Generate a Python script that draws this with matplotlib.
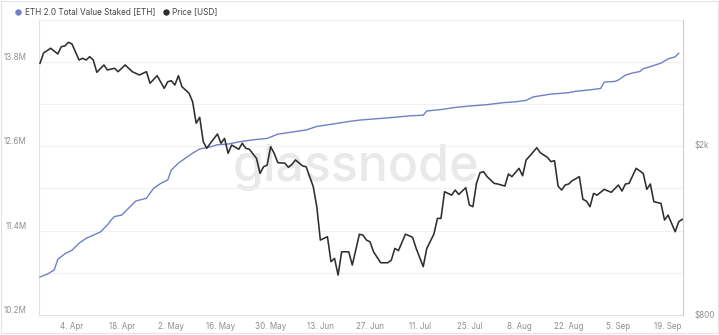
import matplotlib
matplotlib.use("Agg")
import matplotlib.pyplot as plt
import matplotlib.dates as mdates
from matplotlib.lines import Line2D
from matplotlib.patches import Rectangle
from matplotlib.ticker import FixedLocator, FuncFormatter, NullFormatter
import pandas as pd

# ---------------- data (days since 26 Mar 2022) ----------------
base_date = "2022-03-26"

price_day = [0, 1, 3, 5, 6, 7, 8, 9, 11, 12, 13, 14, 15, 16, 18, 19, 21, 22, 24, 26,
             28, 30, 31, 33, 35, 36, 37, 38, 39, 40, 42, 43, 44, 45, 46, 47, 48, 50, 51, 52,
             53, 54, 56, 57, 58, 59, 61, 62, 63, 64, 65, 66, 67, 69, 70, 71, 72, 74, 75, 77,
             78, 79, 81, 82, 83, 84, 85, 87, 88, 90, 91, 92, 93, 94, 96, 98, 99, 100, 101, 103,
             105, 106, 108, 109, 111, 112, 113, 114, 116, 117, 118, 120, 121, 122, 123, 124, 125, 126, 128, 129,
             131, 132, 133, 135, 136, 137, 138, 140, 141, 143, 144, 145, 146, 147, 148, 149, 150, 152, 153, 154,
             155, 156, 157, 159, 161, 163, 164, 165, 166, 168, 170, 171, 172, 173, 175, 176, 177, 179, 180, 181]
price_usd = [3092, 3269, 3353, 3251, 3382, 3394, 3462, 3431, 3147, 3176, 3147, 3204, 3147, 2945, 3064, 2982, 3010, 2955, 3064, 2955,
             2903, 2955, 2776, 2892, 2702, 2799, 2814, 2750, 2892, 2725, 2630, 2514, 2238, 2311, 2026, 1955, 2009, 2112, 2009, 2063,
             1903, 1990, 1945, 2009, 1955, 1945, 1852, 1708, 1770, 1786, 1972, 1903, 1810, 1804, 1765, 1793, 1836, 1778, 1770, 1590,
             1427, 1192, 1214, 1061, 1080, 987, 1119, 1119, 1042, 1230, 1225, 1192, 1181, 1119, 1055, 1055, 1070, 1140, 1126, 1231,
             1210, 1140, 1033, 1140, 1231, 1340, 1340, 1547, 1519, 1561, 1525, 1581, 1440, 1427, 1618, 1714, 1723, 1678, 1618, 1613,
             1595, 1702, 1678, 1755, 1686, 1836, 1875, 1961, 1909, 1862, 1819, 1829, 1595, 1561, 1604, 1613, 1642, 1678, 1485, 1471,
             1427, 1533, 1519, 1567, 1542, 1604, 1553, 1613, 1618, 1755, 1708, 1567, 1613, 1466, 1453, 1328, 1364, 1247, 1316, 1333]

staked_day = [0, 2, 4, 5, 7, 9, 11, 13, 17, 19, 20, 21, 23, 25, 27, 30, 32, 34, 36, 37,
              39, 41, 43, 45, 48, 50, 53, 56, 60, 64, 67, 71, 75, 78, 82, 87, 90, 95, 100, 104,
              108, 109, 113, 117, 121, 126, 131, 134, 137, 139, 144, 149, 151, 155, 158, 159, 162, 163, 165, 167,
              169, 170, 172, 175, 177, 179, 180]
staked_m = [10.74, 10.78, 10.84, 10.99, 11.07, 11.12, 11.22, 11.29, 11.38, 11.48, 11.55, 11.60, 11.62, 11.72, 11.82, 11.86, 12.00, 12.07, 12.12, 12.26,
            12.36, 12.43, 12.50, 12.56, 12.59, 12.62, 12.63, 12.66, 12.69, 12.71, 12.77, 12.80, 12.83, 12.88, 12.91, 12.95, 12.97, 12.99, 13.01, 13.03,
            13.04, 13.10, 13.12, 13.15, 13.17, 13.19, 13.22, 13.23, 13.25, 13.30, 13.34, 13.36, 13.38, 13.40, 13.42, 13.51, 13.52, 13.54, 13.61, 13.64,
            13.66, 13.70, 13.73, 13.78, 13.84, 13.87, 13.92]

left_ticks = [10.2, 11.4, 12.6, 13.8]
left_minor = [10.8, 12.0, 13.2, 14.4]
right_ticks = [800, 2000]
right_labels = ["$800", "$2k"]
x_tick_dates = pd.date_range("2022-04-04", "2022-09-19", freq="14D")
series_names = ["ETH 2.0 Total Value Staked [ETH]", "Price [USD]"]

# ---------------- styling ----------------
BLUE = "#6f80c8"
DARK = "#2e2e2e"
TICK_C = "#8f8f8f"
plt.rcParams["font.family"] = ["Inter", "DejaVu Sans"]

base = pd.Timestamp(base_date)
price_dates = base + pd.to_timedelta(price_day, unit="D")
staked_dates = base + pd.to_timedelta(staked_day, unit="D")

W, H = 719, 335
fig = plt.figure(figsize=(W / 100, H / 100), dpi=100)
ax = fig.add_axes([39 / W, 1 - 315 / H, (683 - 39) / W, (315 - 19.5) / H])
ax2 = ax.twinx()

# watermark
ax.text(0.492, 0.50, "glassnode", transform=ax.transAxes, ha="center", va="center",
        fontsize=36, color="#e9e9e9", fontweight="medium", zorder=0)

ax.plot(staked_dates, staked_m, color=BLUE, lw=1.0, zorder=3)
ax2.plot(price_dates, price_usd, color=DARK, lw=1.15, zorder=4)

ax.set_xlim(pd.Timestamp("2022-03-25 17:00"), pd.Timestamp("2022-09-23 05:00"))
ax.set_ylim(10.2, 14.4)
ax.yaxis.set_major_locator(FixedLocator(left_ticks))
ax.yaxis.set_minor_locator(FixedLocator(left_minor))
ax.yaxis.set_major_formatter(FuncFormatter(lambda v, p: f"{v:.1f}M"))
ax.yaxis.set_minor_formatter(NullFormatter())
ax.grid(True, which="both", axis="y", color="#f1f1f1", lw=0.8)
ax.set_axisbelow(True)

ax.xaxis.set_major_locator(FixedLocator(mdates.date2num(x_tick_dates)))
ax.xaxis.set_major_formatter(mdates.DateFormatter("%-d. %b"))

ax2.set_yscale("log")
ax2.set_ylim(796, 3915)
ax2.yaxis.set_major_locator(FixedLocator(right_ticks))
ax2.yaxis.set_minor_locator(FixedLocator([]))
ax2.yaxis.set_major_formatter(FuncFormatter(
    lambda v, p: right_labels[right_ticks.index(int(round(v)))] if int(round(v)) in right_ticks else ""))

for a in (ax, ax2):
    for s in a.spines.values():
        s.set_visible(False)
ax.spines["left"].set_visible(True)
ax.spines["left"].set_color("#e2e2e2")
ax.spines["bottom"].set_visible(True)
ax.spines["bottom"].set_color("#e2e2e2")
ax2.spines["right"].set_visible(True)
ax2.spines["right"].set_color("#cfcfcf")
for sp in (ax.spines["left"], ax.spines["bottom"], ax2.spines["right"]):
    sp.set_linewidth(0.8)

ax.tick_params(axis="y", which="both", length=0, pad=9, labelsize=5.8, labelcolor=TICK_C)
ax.tick_params(axis="x", length=0, pad=5, labelsize=5.8, labelcolor=TICK_C)
ax2.tick_params(axis="y", which="both", length=0, pad=8, labelsize=5.8, labelcolor=TICK_C)
for lab in ax.get_yticklabels():
    lab.set_va("bottom")

# legend
fig.add_artist(Line2D([17.5 / W], [1 - 12 / H], marker="o", ms=3.6, color=BLUE, lw=0))
fig.text(24.5 / W, 1 - 12 / H, series_names[0], fontsize=5.9, color="#444444", va="center", ha="left")
fig.add_artist(Line2D([165.5 / W], [1 - 12 / H], marker="o", ms=3.6, color=DARK, lw=0))
fig.text(171.5 / W, 1 - 12 / H, series_names[1], fontsize=5.9, color="#444444", va="center", ha="left")

# card border
fig.add_artist(Rectangle((1 / W, 2 / H), (W - 2.5) / W, (H - 3) / H, transform=fig.transFigure,
                         fill=False, edgecolor="#e4e4e4", lw=0.8))

fig.savefig("out.png", dpi=100)
